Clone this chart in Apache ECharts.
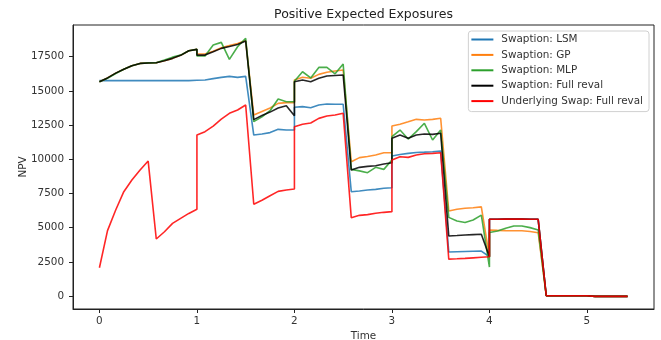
<!DOCTYPE html>
<html>
<head>
<meta charset="utf-8">
<script src="https://cdn.jsdelivr.net/npm/echarts@6/dist/echarts.min.js"></script>
<style>
  html, body { margin: 0; padding: 0; background: #fff; }
  #chart { width: 661px; height: 340px; }
</style>
</head>
<body>
<div id="chart"></div>
<script>
// time grid (monthly, exercise dates appear twice: before / after)
var times = [0, 0.083, 0.167, 0.25, 0.333, 0.417, 0.5, 0.583, 0.667, 0.75, 0.833, 0.917, 1,
  1, 1.083, 1.167, 1.25, 1.333, 1.417, 1.5, 1.583, 1.667, 1.75, 1.833, 1.917, 2,
  2, 2.083, 2.167, 2.25, 2.333, 2.417, 2.5, 2.583, 2.667, 2.75, 2.833, 2.917, 3,
  3, 3.083, 3.167, 3.25, 3.333, 3.417, 3.5, 3.583, 3.667, 3.75, 3.833, 3.917, 4,
  4, 4.083, 4.167, 4.25, 4.333, 4.417, 4.5, 4.583, 4.667, 4.75, 4.833, 4.917, 5, 5.083, 5.167, 5.25, 5.333, 5.417];

var lsm = [15750, 15750, 15750, 15750, 15750, 15750, 15750, 15750, 15750, 15750, 15750, 15750, 15780,
  15780, 15800, 15900, 15990, 16060, 15990, 16060, 11770, 11850, 11950, 12190, 12140, 12140,
  13800, 13850, 13770, 13970, 14040, 14020, 14020, 7630, 7680, 7750, 7800, 7880, 7920,
  10240, 10350, 10430, 10500, 10520, 10550, 10600, 3220, 3240, 3260, 3270, 3280, 2870,
  5610, 5610, 5620, 5620, 5620, 5610, 5610, 20, 20, 20, 20, 20, 20, -30, -30, -30, -30, -30];

var gp = [15670, 15950, 16300, 16580, 16840, 17010, 17040, 17060, 17210, 17380, 17600, 17940, 18040,
  17700, 17700, 17900, 18150, 18320, 18470, 18680, 13240, 13500, 13750, 14090, 14140, 14140,
  15800, 16000, 15920, 16210, 16360, 16450, 16530, 9820, 10120, 10200, 10310, 10480, 10480,
  12430, 12560, 12740, 12920, 12870, 12920, 13000, 6220, 6340, 6420, 6460, 6520, 2870,
  4830, 4800, 4780, 4770, 4770, 4720, 4630, 20, 20, 20, 20, 20, 20, -30, -30, -30, -30, -30];

var mlp = [15670, 15920, 16270, 16580, 16840, 17000, 17050, 17060, 17260, 17470, 17620, 17940, 18040,
  17550, 17550, 18360, 18550, 17310, 18230, 18850, 12750, 13100, 13550, 14410, 14210, 14210,
  15700, 16400, 15950, 16720, 16720, 16250, 16970, 9260, 9150, 9020, 9410, 9260, 9950,
  11650, 12140, 11480, 12020, 12630, 11410, 12140, 5750, 5480, 5380, 5560, 5920, 2120,
  4650, 4750, 4950, 5120, 5120, 5000, 4830, 20, 20, 20, 20, 20, 20, -30, -30, -30, -30, -30];

var fullReval = [15670, 15950, 16300, 16580, 16840, 17010, 17040, 17060, 17210, 17380, 17600, 17940, 18040,
  17620, 17620, 17870, 18110, 18250, 18400, 18650, 12900, 13200, 13450, 13750, 13920, 13190,
  15670, 15800, 15670, 15920, 16090, 16130, 16160, 9210, 9410, 9480, 9530, 9650, 9750,
  11530, 11770, 11530, 11770, 11850, 11820, 11900, 4390, 4420, 4460, 4490, 4520, 2870,
  5610, 5610, 5620, 5620, 5620, 5610, 5610, 20, 20, 20, 20, 20, 20, -30, -30, -30, -30, -30];

var swapReval = [2070, 4780, 6290, 7630, 8480, 9210, 9870, 4170, 4700, 5310, 5680, 6040, 6340,
  11770, 12020, 12430, 12940, 13360, 13600, 13970, 6710, 7000, 7330, 7650, 7750, 7830,
  12380, 12560, 12650, 12990, 13160, 13240, 13360, 5730, 5900, 5950, 6050, 6120, 6170,
  9950, 10190, 10140, 10310, 10400, 10430, 10480, 2700, 2720, 2750, 2790, 2830, 2870,
  5610, 5610, 5620, 5620, 5620, 5610, 5610, 20, 20, 20, 20, 20, 20, -30, -30, -30, -30, -30];

var xTicks = [0, 1, 2, 3, 4, 5];
var yTicks = [0, 2500, 5000, 7500, 10000, 12500, 15000, 17500];

var seriesNames = ["Swaption: LSM", "Swaption: GP", "Swaption: MLP", "Swaption: Full reval", "Underlying Swap: Full reval"];
var seriesColors = ["#1f77b4", "#ff7f0e", "#2ca02c", "#000000", "#ff0000"];
var seriesValues = [lsm, gp, mlp, fullReval, swapReval];

(function () {
  var myChart = echarts.init(document.getElementById("chart"), null, { renderer: "canvas" });
  var font = "DejaVu Sans";

  function pairs(vals) {
    return vals.map(function (v, i) {
      return [times[i], v];
    });
  }

  var series = seriesNames.map(function (name, i) {
    return {
      name: name,
      type: "line",
      data: pairs(seriesValues[i]),
      showSymbol: false,
      symbol: "none",
      color: seriesColors[i],
      lineStyle: { width: 1.6, opacity: 0.85 },
      animation: false,
    };
  });

  var option = {
    animation: false,
    title: {
      text: "Positive Expected Exposures",
      left: 363.5,
      textAlign: "center",
      top: 8,
      padding: 0,
      textStyle: { fontFamily: font, fontSize: 12.5, fontWeight: "normal", color: "#222" },
    },
    legend: {
      orient: "vertical",
      right: 12,
      top: 31,
      icon: "rect",
      itemWidth: 22,
      itemHeight: 2,
      itemGap: 2.4,
      padding: [2, 6, 4, 3],
      borderColor: "#d0d0d0",
      borderWidth: 1,
      borderRadius: 3,
      backgroundColor: "rgba(255,255,255,0.8)",
      textStyle: { fontFamily: font, fontSize: 10.4, lineHeight: 13, color: "#333", padding: [0, 0, 0, 3] },
      data: seriesNames,
    },
    grid: {
      left: 73,
      right: 7,
      top: 25,
      bottom: 31,
      outerBoundsMode: "none",
      containLabel: false,
      show: true,
      borderColor: "#222",
      borderWidth: 1,
    },
    xAxis: {
      type: "value",
      min: -0.271,
      max: 5.688,
      name: "Time",
      nameLocation: "middle",
      nameGap: 20,
      nameTextStyle: { fontFamily: font, fontSize: 10.4, color: "#333" },
      axisLine: { show: true, onZero: false, lineStyle: { color: "#222" } },
      axisTick: { show: true, length: 4, customValues: xTicks, lineStyle: { color: "#222" } },
      axisLabel: { customValues: xTicks, margin: 7, fontFamily: font, fontSize: 10.4, color: "#333" },
      splitLine: { show: false },
    },
    yAxis: {
      type: "value",
      min: -950,
      max: 19820,
      name: "NPV",
      nameLocation: "middle",
      nameGap: 45,
      nameMoveOverlap: false,
      nameTextStyle: { fontFamily: font, fontSize: 10.4, color: "#333" },
      axisLine: { show: true, onZero: false, lineStyle: { color: "#222" } },
      axisTick: { show: true, length: 4, customValues: yTicks, lineStyle: { color: "#222" } },
      axisLabel: {
        customValues: yTicks,
        margin: 9,
        fontFamily: font,
        fontSize: 10.4,
        color: "#333",
        formatter: function (v) {
          return String(v);
        },
      },
      splitLine: { show: false },
    },
    series: series,
  };

  myChart.setOption(option);
  window.addEventListener("resize", function () {
    myChart.resize();
  });
})();
</script>
</body>
</html>
